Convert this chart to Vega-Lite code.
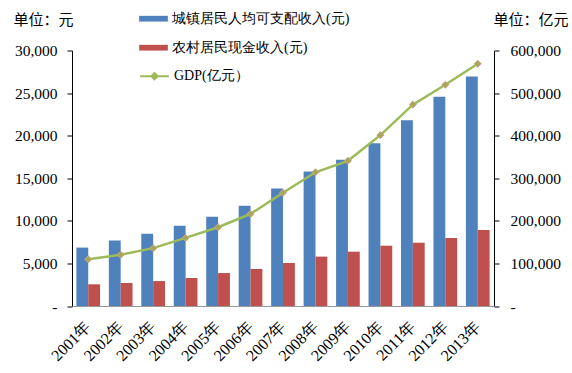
{
  "$schema": "https://vega.github.io/schema/vega-lite/v6.json",
  "width": 422,
  "height": 255.5,
  "autosize": "none",
  "padding": {"left": 72, "top": 50.5, "right": 78, "bottom": 67},
  "background": "white",
  "config": {
    "view": {"stroke": null},
    "font": "Liberation Serif",
    "axis": {"labelFont": "Liberation Serif", "labelColor": "#000", "labelFontSize": 15.5, "titleFont": "Noto Sans CJK SC", "titleFontSize": 15, "titleFontWeight": "normal", "titleColor": "#000", "grid": false},
    "legend": {"labelFont": "Liberation Serif", "labelFontSize": 14, "labelColor": "#000", "labelLimit": 0}
  },
  "datasets": {
    "income": [
      {"year": "2001年", "series": "城镇居民人均可支配收入(元)", "value": 6860},
      {"year": "2002年", "series": "城镇居民人均可支配收入(元)", "value": 7703},
      {"year": "2003年", "series": "城镇居民人均可支配收入(元)", "value": 8472},
      {"year": "2004年", "series": "城镇居民人均可支配收入(元)", "value": 9422},
      {"year": "2005年", "series": "城镇居民人均可支配收入(元)", "value": 10493},
      {"year": "2006年", "series": "城镇居民人均可支配收入(元)", "value": 11759},
      {"year": "2007年", "series": "城镇居民人均可支配收入(元)", "value": 13786},
      {"year": "2008年", "series": "城镇居民人均可支配收入(元)", "value": 15781},
      {"year": "2009年", "series": "城镇居民人均可支配收入(元)", "value": 17175},
      {"year": "2010年", "series": "城镇居民人均可支配收入(元)", "value": 19109},
      {"year": "2011年", "series": "城镇居民人均可支配收入(元)", "value": 21810},
      {"year": "2012年", "series": "城镇居民人均可支配收入(元)", "value": 24565},
      {"year": "2013年", "series": "城镇居民人均可支配收入(元)", "value": 26955},
      {"year": "2001年", "series": "农村居民现金收入(元)", "value": 2550},
      {"year": "2002年", "series": "农村居民现金收入(元)", "value": 2700},
      {"year": "2003年", "series": "农村居民现金收入(元)", "value": 2930},
      {"year": "2004年", "series": "农村居民现金收入(元)", "value": 3290},
      {"year": "2005年", "series": "农村居民现金收入(元)", "value": 3870},
      {"year": "2006年", "series": "农村居民现金收入(元)", "value": 4350},
      {"year": "2007年", "series": "农村居民现金收入(元)", "value": 5050},
      {"year": "2008年", "series": "农村居民现金收入(元)", "value": 5800},
      {"year": "2009年", "series": "农村居民现金收入(元)", "value": 6380},
      {"year": "2010年", "series": "农村居民现金收入(元)", "value": 7080},
      {"year": "2011年", "series": "农村居民现金收入(元)", "value": 7430},
      {"year": "2012年", "series": "农村居民现金收入(元)", "value": 7990},
      {"year": "2013年", "series": "农村居民现金收入(元)", "value": 8920}
    ],
    "gdp": [
      {"year": "2001年", "gdp": 109655},
      {"year": "2002年", "gdp": 120333},
      {"year": "2003年", "gdp": 135823},
      {"year": "2004年", "gdp": 159878},
      {"year": "2005年", "gdp": 184937},
      {"year": "2006年", "gdp": 216314},
      {"year": "2007年", "gdp": 265810},
      {"year": "2008年", "gdp": 314045},
      {"year": "2009年", "gdp": 340903},
      {"year": "2010年", "gdp": 401202},
      {"year": "2011年", "gdp": 472882},
      {"year": "2012年", "gdp": 519470},
      {"year": "2013年", "gdp": 568845}
    ]
  },
  "layer": [
    {
      "data": {"name": "income"},
      "mark": {"type": "bar"},
      "encoding": {
        "x": {
          "field": "year", "type": "nominal", "sort": null,
          "scale": {"paddingInner": 0.27, "paddingOuter": 0.135},
          "axis": {"title": null, "labelAngle": -45, "labelAlign": "right", "labelBaseline": "middle", "labelPadding": 18, "ticks": false, "domainColor": "#999999", "domainWidth": 1.2, "labelFontSize": 16}
        },
        "xOffset": {"field": "series", "type": "nominal", "sort": ["城镇居民人均可支配收入(元)", "农村居民现金收入(元)"], "scale": {"paddingInner": 0, "paddingOuter": 0}},
        "y": {
          "field": "value", "type": "quantitative",
          "scale": {"domain": [0, 30000], "nice": false},
          "axis": {"orient": "left", "values": [0, 5000, 10000, 15000, 20000, 25000, 30000], "labelExpr": "datum.value === 0 ? '-' : format(datum.value, ',')", "tickSize": 5, "tickColor": "#000", "domainColor": "#000", "labelPadding": 10, "title": "单位：元", "titleAngle": 0, "titleX": -59, "titleY": -31, "titleAlign": "left", "titleBaseline": "middle"}
        },
        "color": {
          "field": "series", "type": "nominal",
          "scale": {"domain": ["城镇居民人均可支配收入(元)", "农村居民现金收入(元)"], "range": ["#4F81BD", "#C0504D"]},
          "legend": {"title": null, "orient": "none", "legendX": 67, "legendY": -46.3, "symbolType": "M-1,-0.2H1V0.2H-1Z", "symbolSize": 824, "symbolStrokeWidth": 0, "labelOffset": 4, "rowPadding": 7}
        }
      }
    },
    {
      "data": {"name": "gdp"},
      "encoding": {
        "x": {"field": "year", "type": "nominal", "sort": null},
        "y": {
          "field": "gdp", "type": "quantitative",
          "scale": {"domain": [0, 600000], "nice": false},
          "axis": {"orient": "right", "values": [0, 100000, 200000, 300000, 400000, 500000, 600000], "labelExpr": "datum.value === 0 ? '-' : format(datum.value, ',')", "tickSize": 5, "tickColor": "#000", "domainColor": "#000", "labelPadding": 11, "title": "单位：亿元", "titleAngle": 0, "titleX": -1, "titleY": -31, "titleAlign": "left", "titleBaseline": "middle"}
        }
      },
      "layer": [
        {
          "mark": {"type": "line", "strokeWidth": 2.5},
          "encoding": {
            "stroke": {
              "datum": "GDP(亿元）", "type": "nominal",
              "scale": {"domain": ["GDP(亿元）"], "range": ["#9BBB59"]},
              "legend": {"title": null, "orient": "none", "legendX": 67, "legendY": 10.2, "symbolType": "M-1,0H1M0,-0.22L0.22,0L0,0.22L-0.22,0Z", "symbolSize": 824, "symbolStrokeWidth": 2, "symbolFillColor": "#A2AA55", "labelOffset": 4}
            }
          }
        },
        {
          "mark": {"type": "point", "shape": "diamond", "filled": true, "size": 50, "fill": "#A2AA55", "stroke": "#D8A090", "strokeWidth": 1, "opacity": 1}
        }
      ]
    }
  ],
  "resolve": {"scale": {"y": "independent"}}
}
